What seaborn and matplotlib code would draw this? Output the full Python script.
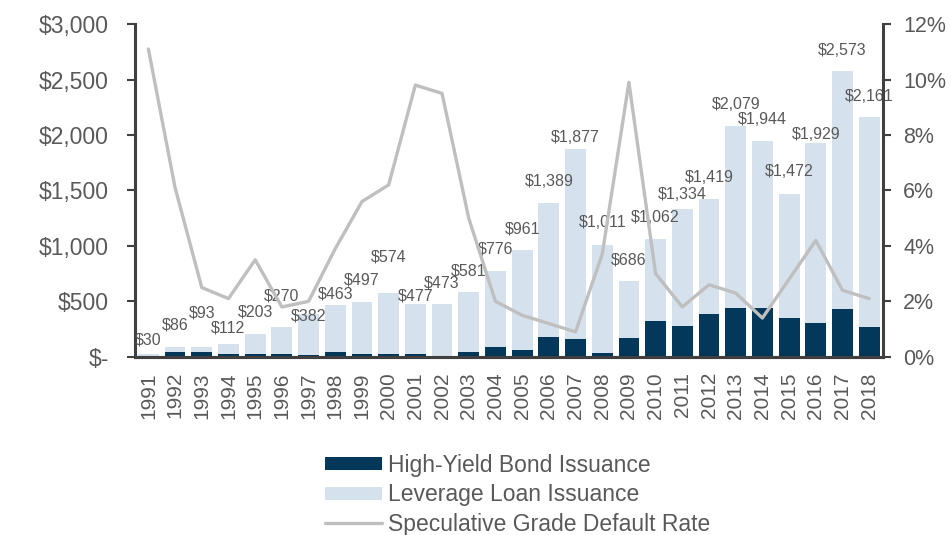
import numpy as np
import pandas as pd
import seaborn as sns
import matplotlib.pyplot as plt
from matplotlib.patches import Patch
from matplotlib.lines import Line2D
from matplotlib.ticker import FuncFormatter

years = [str(y) for y in range(1991, 2019)]
total_issuance = [30, 86, 93, 112, 203, 270, 382, 463, 497, 574, 477, 473, 581, 776,
                  961, 1389, 1877, 1011, 686, 1062, 1334, 1419, 2079, 1944, 1472, 1929, 2573, 2161]
hy_bond = [5, 40, 48, 22, 22, 26, 15, 40, 28, 22, 22, 10, 42, 85,
           63, 175, 160, 36, 171, 319, 279, 387, 441, 436, 346, 301, 430, 268]
default_rate = [11.1, 6.1, 2.5, 2.1, 3.5, 1.8, 2.0, 3.9, 5.6, 6.2, 9.8, 9.5, 5.0, 2.0,
                1.5, 1.2, 0.9, 3.7, 9.9, 3.0, 1.8, 2.6, 2.3, 1.4, 2.8, 4.2, 2.4, 2.1]

# vertical nudge of each data label above its bar (in $bn), as placed in the original
label_nudge = [120, 200, 300, 150, 200, 280, -15, 100, 195, 330, 70, 195, 195, 200,
               195, 195, 100, 200, 190, 195, 130, 195, 195, 195, 195, 75, 190, 190]

dark = '#03385a'
light = '#d5e2ed'
grey_line = '#bfbfbf'
txt = '#595959'
spine_c = '#404040'

df = pd.DataFrame({'year': years, 'total': total_issuance, 'bond': hy_bond,
                   'rate': default_rate})
df['pos'] = np.arange(len(df))

sns.set_style('white')
plt.rcParams['font.family'] = ['Liberation Sans', 'DejaVu Sans']

fig = plt.figure(figsize=(9.51, 5.35), dpi=100)
ax = fig.add_axes([0.142, 0.333, 0.786, 0.622])

# light bar = total issuance (loan on top of bond), dark bar = high-yield bond
sns.barplot(data=df, x='year', y='total', color=light, width=0.78, saturation=1,
            ax=ax, edgecolor='none')
sns.barplot(data=df, x='year', y='bond', color=dark, width=0.78, saturation=1,
            ax=ax, edgecolor='none')

for i, v in enumerate(total_issuance):
    ax.text(i, v + label_nudge[i], f'${v:,}', ha='center', va='center',
            fontsize=11.5, color=txt)

ax.set_ylim(0, 3000)
ax.set_xlim(-0.5, len(years) - 0.5)
ax.set_yticks(range(0, 3001, 500))
ax.yaxis.set_major_formatter(FuncFormatter(lambda v, p: '$-' if v == 0 else f'${v:,.0f}'))
ax.set_xlabel('')
ax.set_ylabel('')
ax.tick_params(axis='x', rotation=90, labelsize=15, colors=txt, length=0, pad=11)
ax.tick_params(axis='y', labelsize=16.5, colors=txt, length=6, width=1.5,
               direction='out', left=True, pad=13)
ax.tick_params(axis='y', color=spine_c)

ax2 = ax.twinx()
sns.lineplot(x=df['pos'], y=df['rate'], color=grey_line, lw=2.4, ax=ax2)
ax2.set_ylim(0, 12)
ax2.set_yticks(range(0, 13, 2))
ax2.yaxis.set_major_formatter(FuncFormatter(lambda v, p: f'{v:.0f}%'))
ax2.set_ylabel('')
ax2.set_xlabel('')
ax2.tick_params(axis='y', labelsize=15.5, colors=txt, length=6, width=1.5,
                direction='out', right=True, pad=9)
ax2.tick_params(axis='y', color=spine_c)

for a in (ax, ax2):
    a.spines['top'].set_visible(False)
    for s in ('left', 'right', 'bottom'):
        a.spines[s].set_color(spine_c)
        a.spines[s].set_linewidth(2.2)
ax.spines['right'].set_visible(False)
ax2.spines['left'].set_visible(False)

handles = [Patch(facecolor=dark, edgecolor='none'),
           Patch(facecolor=light, edgecolor='none'),
           Line2D([0], [0], color=grey_line, lw=2.4)]
labels = ['High-Yield Bond Issuance', 'Leverage Loan Issuance',
          'Speculative Grade Default Rate']
fig.legend(handles, labels, loc='center', bbox_to_anchor=(0.544, 0.075), frameon=False,
           fontsize=16.5, labelcolor=txt, handlelength=2.5, handleheight=0.5,
           handletextpad=0.25, labelspacing=0.28, borderpad=0.2)

fig.savefig('out.png', dpi=100)
